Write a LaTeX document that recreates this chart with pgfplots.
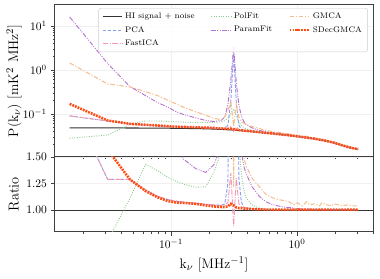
\documentclass[border=0pt]{standalone}
\usepackage{pgfplots}
\usepackage{pgfplotstable}
\pgfplotsset{compat=1.18}

\definecolor{cHI}{HTML}{333333}
\definecolor{cPCA}{HTML}{8A9EF0}
\definecolor{cFICA}{HTML}{F29AB4}
\definecolor{cPOL}{HTML}{8CC88C}
\definecolor{cPAR}{HTML}{B572CC}
\definecolor{cGMCA}{HTML}{F5BE8E}
\definecolor{cSDEC}{HTML}{FF4A10}

\tikzset{
 sHI/.style={cHI, line width=0.9pt, solid},
 sPCA/.style={cPCA, line width=0.8pt, dash pattern=on 3pt off 1.4pt},
 sFICA/.style={cFICA, line width=0.8pt, dash pattern=on 5pt off 1.3pt on 0.8pt off 1.3pt},
 sPOL/.style={cPOL, line width=0.8pt, dash pattern=on 0.8pt off 1.3pt},
 sPAR/.style={cPAR, line width=0.8pt, dash pattern=on 4pt off 1.2pt on 0.8pt off 1.2pt on 0.8pt off 1.2pt},
 sGMCA/.style={cGMCA, line width=0.9pt, dash pattern=on 4pt off 1.5pt on 1pt off 1.5pt},
 sSDEC/.style={cSDEC, line width=2.2pt, dash pattern=on 1.6pt off 0.9pt},
}

\pgfplotstableread{
k hi pca fica pol par gmca sdec
0.0157 0.0480 0.090 0.090 0.028 16 1.44 0.169
0.0314 0.0480 0.069 0.069 0.033 1.4 0.48 0.071
0.0471 0.0478 0.060 0.060 0.058 0.42 0.41 0.0595
0.0628 0.0477 0.056 0.056 0.069 0.26 0.32 0.0565
0.0785 0.0475 0.054 0.054 0.069 0.18 0.26 0.0545
0.0942 0.0473 0.052 0.052 0.0675 0.143 0.205 0.0525
0.1099 0.0470 0.0512 0.0512 0.066 0.112 0.168 0.0512
0.1256 0.0468 0.0505 0.0505 0.065 0.097 0.142 0.0505
0.157 0.0463 0.0495 0.0495 0.064 0.081 0.112 0.0495
0.1884 0.0458 0.0487 0.0487 0.0635 0.071 0.093 0.0487
0.2198 0.0452 0.0478 0.0478 0.064 0.067 0.079 0.0478
0.2512 0.0444 0.0468 0.0468 0.066 0.072 0.074 0.0466
0.2669 0.0440 0.047 0.0464 0.070 0.085 0.085 0.0461
0.2826 0.0436 0.055 0.046 0.080 0.16 0.12 0.0455
0.2983 0.0432 0.20 0.052 0.10 0.6 0.19 0.0462
0.314 0.0428 2.4 0.040 0.13 3.3 0.052 0.0450
0.3297 0.0424 0.18 0.050 0.09 0.5 0.16 0.0436
0.3454 0.0420 0.055 0.0435 0.066 0.16 0.085 0.0428
0.3611 0.0416 0.045 0.0425 0.055 0.09 0.066 0.0423
0.3768 0.0412 0.0425 0.0419 0.049 0.068 0.062 0.0418
0.3925 0.0408 0.0416 0.0414 0.046 0.058 0.058 0.0413
0.4396 0.0396 0.0402 0.0401 0.0415 0.048 0.0515 0.0400
0.5024 0.0381 0.0385 0.0385 0.0389 0.042 0.0465 0.0384
0.5652 0.0368 0.0371 0.0371 0.0372 0.0395 0.0423 0.0370
0.628 0.0357 0.0359 0.0359 0.0359 0.0375 0.0400 0.0359
0.7065 0.0345 0.0347 0.0347 0.0347 0.0357 0.0380 0.0347
0.785 0.0334 0.0336 0.0336 0.0336 0.0344 0.0364 0.0336
0.8635 0.0324 0.0326 0.0326 0.0326 0.0332 0.0350 0.0326
0.942 0.0314 0.0316 0.0316 0.0316 0.0320 0.0333 0.0316
1.0048 0.0306 0.0308 0.0308 0.0308 0.0311 0.0327 0.0308
1.099 0.0296 0.0298 0.0298 0.0298 0.0300 0.0311 0.0298
1.1932 0.0287 0.0289 0.0289 0.0289 0.0290 0.0310 0.0289
1.256 0.0281 0.0283 0.0283 0.0283 0.0284 0.0295 0.0283
1.3816 0.0270 0.0272 0.0272 0.0272 0.0273 0.0286 0.0272
1.5072 0.0258 0.0260 0.0260 0.0260 0.0261 0.0268 0.0260
1.57 0.0253 0.0255 0.0255 0.0255 0.0256 0.0271 0.0255
1.727 0.0240 0.0241 0.0241 0.0241 0.0242 0.0252 0.0241
1.884 0.0226 0.0227 0.0227 0.0227 0.0228 0.0235 0.0227
1.9625 0.0220 0.0221 0.0221 0.0221 0.0222 0.0233 0.0221
2.1195 0.0205 0.0206 0.0206 0.0206 0.0207 0.0215 0.0206
2.2765 0.0192 0.0193 0.0193 0.0193 0.0194 0.0200 0.0193
2.512 0.0177 0.0178 0.0178 0.0178 0.0178 0.0186 0.0178
2.7475 0.0166 0.0167 0.0167 0.0167 0.0167 0.0173 0.0167
3.0458 0.0157 0.0158 0.0158 0.0158 0.0158 0.0163 0.0158
}\topdata

\pgfplotstableread{
k pca fica pol par gmca sdec
0.0157 2.04 2.04 0.58 5 5 3.5
0.0314 1.29 1.29 0.71 5 5 1.57
0.0471 1.29 1.29 1.11 5 5 1.29
0.0628 1.19 1.19 1.43 5 5 1.18
0.0785 1.13 1.13 1.37 3.8 5 1.12
0.0942 1.10 1.10 1.31 3.0 4.3 1.085
0.1099 1.085 1.085 1.27 1.62 3.6 1.072
0.1256 1.075 1.075 1.245 1.48 3.0 1.068
0.157 1.065 1.065 1.215 1.39 2.4 1.06
0.1884 1.055 1.055 1.22 1.355 2.0 1.045
0.2198 1.05 1.05 1.36 1.43 1.75 1.035
0.2512 1.045 1.045 1.56 1.62 1.67 1.03
0.2669 1.06 1.05 1.9 1.9 1.93 1.03
0.2826 1.25 1.07 2.4 3.5 2.75 1.035
0.2983 4.5 1.35 3.0 5 4.4 1.06
0.314 5 0.85 3.5 5 1.22 1.045
0.3297 4.0 1.30 2.4 5 3.8 1.025
0.3454 1.3 1.06 1.6 2.1 2.0 1.02
0.3611 1.08 1.035 1.35 1.55 1.6 1.02
0.3768 1.03 1.025 1.2 1.42 1.5 1.015
0.3925 1.02 1.02 1.12 1.35 1.42 1.015
0.4396 1.015 1.015 1.05 1.22 1.3 1.01
0.5024 1.01 1.01 1.02 1.13 1.22 1.008
0.5652 1.008 1.008 1.01 1.08 1.15 1.005
0.628 1.005 1.005 1.005 1.055 1.12 1.005
0.7065 1.005 1.005 1.005 1.04 1.10 1.005
0.785 1.005 1.005 1.005 1.03 1.09 1.005
0.8635 1.005 1.005 1.005 1.025 1.08 1.005
0.942 1.005 1.005 1.005 1.02 1.05 1.005
1.0048 1.005 1.005 1.005 1.015 1.07 1.005
1.099 1.005 1.005 1.005 1.012 1.04 1.005
1.1932 1.005 1.005 1.005 1.01 1.08 1.005
1.256 1.005 1.005 1.005 1.01 1.05 1.005
1.3816 1.005 1.005 1.005 1.008 1.06 1.005
1.5072 1.005 1.005 1.005 1.008 1.04 1.005
1.57 1.005 1.005 1.005 1.006 1.07 1.005
1.727 1.005 1.005 1.005 1.005 1.05 1.005
1.884 1.005 1.005 1.005 1.005 1.04 1.005
1.9625 1.005 1.005 1.005 1.005 1.06 1.005
2.1195 1.005 1.005 1.005 1.005 1.05 1.005
2.2765 1.005 1.005 1.005 1.005 1.04 1.005
2.512 1.005 1.005 1.005 1.005 1.05 1.005
2.7475 1.005 1.005 1.005 1.005 1.04 1.005
3.0458 1.005 1.005 1.005 1.005 1.04 1.005
}\ratiodata

\begin{document}
\begin{tikzpicture}
\useasboundingbox (-47.7pt,4.3pt) rectangle (282.1pt,-237.8pt);
\begin{axis}[name=top, at={(0,0)}, anchor=north west,
  scale only axis, width=276pt, height=131.9pt,
  xmode=log, xmin=0.012, xmax=4,
  ymode=log, ymin=0.0105, ymax=30,
  axis line style={draw=black!75, line width=0.8pt},
  tick style={black!75, line width=0.6pt},
  tick align=outside, xtick pos=bottom, ytick pos=left,
  major tick length=3.5pt, minor tick length=2pt,
  grid=major, major grid style={gray!12, line width=0.5pt},
  tick label style={font=\fontsize{10}{12}\selectfont},
  label style={font=\fontsize{12.5}{15}\selectfont},
  xticklabels={},
  ylabel={$\mathrm{P(k_\nu)\ [mK^2\ MHz^2]}$},
  ylabel style={at={(axis description cs:-0.129,0.5)}, anchor=center},
  legend style={at={(0.984,0.98)}, anchor=north east, draw=black!20,
    rounded corners=2pt, fill=white, fill opacity=0.85, text opacity=1,
    font=\fontsize{7}{8.4}\selectfont, inner xsep=3pt, inner ysep=2pt,
    row sep=1.2pt,
    /tikz/every even column/.append style={column sep=12pt}},
  legend columns=3, legend cell align=left]
\addlegendimage{sHI}\addlegendentry{HI signal + noise}
\addlegendimage{sPOL}\addlegendentry{PolFit}
\addlegendimage{sGMCA}\addlegendentry{GMCA}
\addlegendimage{sPCA}\addlegendentry{PCA}
\addlegendimage{sPAR}\addlegendentry{ParamFit}
\addlegendimage{sSDEC}\addlegendentry{SDecGMCA}
\addlegendimage{sFICA}\addlegendentry{FastICA}
\addplot[sHI, forget plot] table[x=k, y=hi]{\topdata};
\addplot[sPCA, forget plot] table[x=k, y=pca]{\topdata};
\addplot[sFICA, forget plot] table[x=k, y=fica]{\topdata};
\addplot[sPOL, forget plot] table[x=k, y=pol]{\topdata};
\addplot[sPAR, forget plot] table[x=k, y=par]{\topdata};
\addplot[sGMCA, forget plot] table[x=k, y=gmca]{\topdata};
\addplot[sSDEC, forget plot] table[x=k, y=sdec]{\topdata};
\end{axis}
\begin{axis}[name=bot, at={(0,-131.9pt)}, anchor=north west,
  scale only axis, width=276pt, height=64.7pt,
  xmode=log, xmin=0.012, xmax=4,
  ymin=0.8, ymax=1.5, ytick={1,1.25,1.5},
  axis line style={draw=black!75, line width=0.8pt},
  tick style={black!75, line width=0.6pt},
  tick align=outside, xtick pos=bottom, ytick pos=left,
  major tick length=3.5pt, minor tick length=2pt,
  grid=major, major grid style={gray!12, line width=0.5pt},
  tick label style={font=\fontsize{10}{12}\selectfont},
  label style={font=\fontsize{12.5}{15}\selectfont},
  yticklabel style={/pgf/number format/fixed, /pgf/number format/fixed zerofill, /pgf/number format/precision=2},
  ylabel={Ratio},
  ylabel style={at={(axis description cs:-0.129,0.5)}, anchor=center},
  xlabel={$\mathrm{k_\nu\ [MHz^{-1}]}$}]
\addplot[sHI, forget plot] coordinates {(0.012,1) (4,1)};
\addplot[sPCA, forget plot] table[x=k, y=pca]{\ratiodata};
\addplot[sFICA, forget plot] table[x=k, y=fica]{\ratiodata};
\addplot[sPOL, forget plot] table[x=k, y=pol]{\ratiodata};
\addplot[sPAR, forget plot] table[x=k, y=par]{\ratiodata};
\addplot[sGMCA, forget plot] table[x=k, y=gmca]{\ratiodata};
\addplot[sSDEC, forget plot] table[x=k, y=sdec]{\ratiodata};
\end{axis}
\end{tikzpicture}
\end{document}
